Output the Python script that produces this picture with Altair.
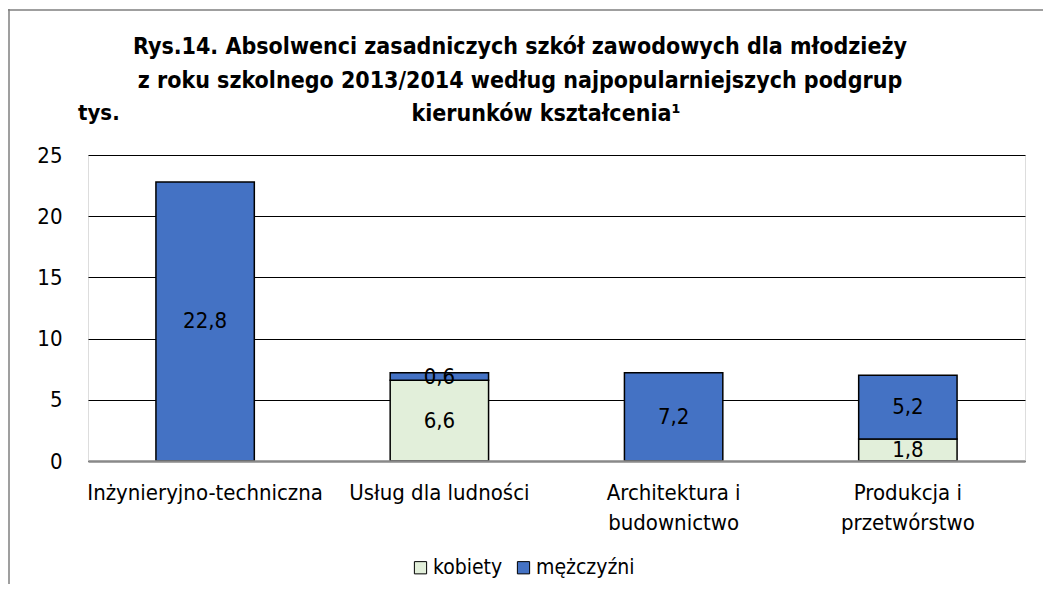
import altair as alt
import pandas as pd

FONT = "Liberation Sans Narrow, Arial Narrow, DejaVu Sans Condensed, sans-serif"

categories = ["Inżynieryjno-techniczna", "Usług dla ludności",
              "Architektura i budownictwo", "Produkcja i przetwórstwo"]
kobiety = [None, 6.6, None, 1.8]
mezczyzni = [22.8, 0.6, 7.2, 5.2]
series = ["kobiety", "mężczyźni"]
colors = ["#E2EFDA", "#4472C4"]
y_ticks = [0, 5, 10, 15, 20, 25]
title_lines = ["Rys.14. Absolwenci zasadniczych szkół zawodowych dla młodzieży",
               "z roku szkolnego 2013/2014 według najpopularniejszych podgrup",
               "kierunków kształcenia¹"]
unit = "tys."

rows = []
for i, c in enumerate(categories):
    for k, (s, vals) in enumerate(zip(series, [kobiety, mezczyzni])):
        v = vals[i]
        if v is not None:
            rows.append({"cat": c, "series": s, "value": v, "order": k,
                         "label": f"{v:.1f}".replace(".", ",")})
df = pd.DataFrame(rows)

W, H = 937, 306

base = alt.Chart(df).transform_stack(
    stack="value", groupby=["cat"], as_=["y0", "y1"],
    sort=[alt.SortField("order", order="ascending")]
).transform_calculate(mid="(datum.y0 + datum.y1) / 2")

xenc = alt.X("cat:N", sort=categories,
             scale=alt.Scale(paddingInner=0.58, paddingOuter=0.29),
             axis=alt.Axis(title=None, labelFont=FONT, labelFontSize=22, labelColor="black",
                           labelAngle=0, labelPadding=21, ticks=False, labelLimit=0,
                           labelLineHeight=30, domainColor="#898989", domainWidth=2.5,
                           zindex=1,
                           labelExpr="indexof(datum.label, ' i ') > 0 ? [substring(datum.label, 0, indexof(datum.label, ' i ') + 2), substring(datum.label, indexof(datum.label, ' i ') + 3)] : datum.label"))

bars = base.mark_bar(stroke="black", strokeWidth=1.5).encode(
    x=xenc,
    y=alt.Y("y0:Q", scale=alt.Scale(domain=[0, 25], nice=False),
            axis=alt.Axis(title=None, values=y_ticks, grid=True, gridColor="black", gridWidth=1,
                          domain=False, ticks=False, labelFont=FONT, labelFontSize=22,
                          labelColor="black", labelPadding=26)),
    y2="y1:Q",
    color=alt.Color("series:N", scale=alt.Scale(domain=series, range=colors),
                    legend=alt.Legend(title=None, orient="none", legendX=322, legendY=402,
                                      direction="horizontal", symbolType="square",
                                      symbolSize=150, symbolStrokeColor="black",
                                      symbolStrokeWidth=1, labelFont=FONT, labelFontSize=21,
                                      labelColor="black", columnPadding=10, labelOffset=2)),
)

labels = base.mark_text(font=FONT, fontSize=22, color="black").encode(
    x=alt.X("cat:N", sort=categories),
    y=alt.Y("mid:Q"),
    text="label:N",
)

deco = []
title_x = [432, 432, 458]
title_y = [-108, -74, -41]
for t, tx, ty in zip(title_lines, title_x, title_y):
    deco.append(alt.Chart(pd.DataFrame({"t": [t]})).mark_text(
        font=FONT, fontSize=23, fontWeight="bold", color="black", align="center", baseline="middle"
    ).encode(x=alt.value(tx), y=alt.value(ty), text="t:N"))
deco.append(alt.Chart(pd.DataFrame({"t": [unit]})).mark_text(
    font=FONT, fontSize=22, fontWeight="bold", color="black", align="left", baseline="middle"
).encode(x=alt.value(-10), y=alt.value(-42), text="t:N"))

border = pd.DataFrame({"a": [0]})
top_rule = alt.Chart(border).mark_rule(color="#7f7f7f", strokeWidth=1.5).encode(
    x=alt.value(-80), x2=alt.value(960), y=alt.value(-145))
left_rule = alt.Chart(border).mark_rule(color="#7f7f7f", strokeWidth=1.5).encode(
    x=alt.value(-79), y=alt.value(-146), y2=alt.value(440))

chart = alt.layer(bars, labels, *deco, top_rule, left_rule).properties(
    width=W, height=H,
    autosize=alt.AutoSizeParams(type="none"),
    padding={"left": 80, "top": 147, "right": 18, "bottom": 123},
).configure_view(stroke=None).configure(background="white")

chart.save("out.html", embed_options={"renderer": "svg", "actions": False})
